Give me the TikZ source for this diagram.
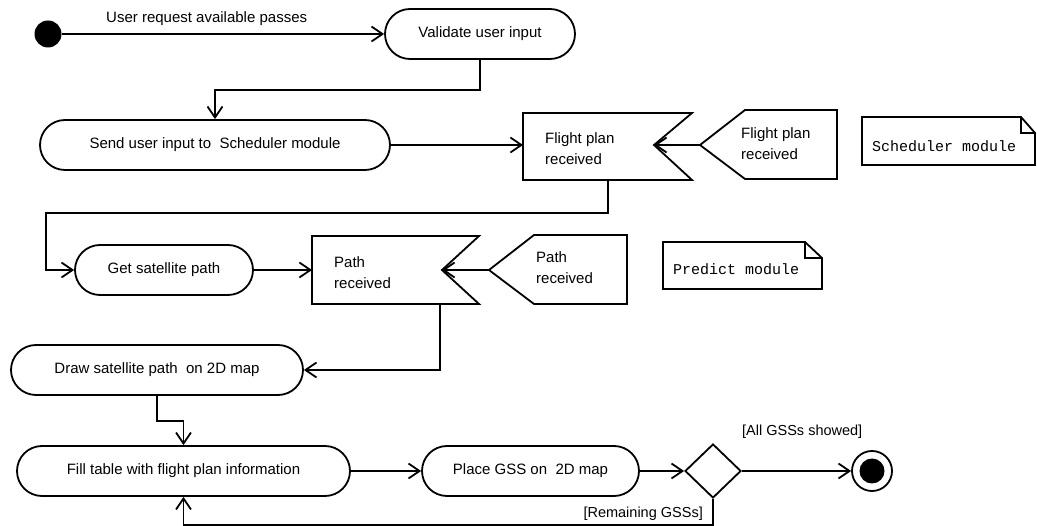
\documentclass[tikz,border=0pt]{standalone}
\usepackage{fontspec}
\setmainfont{Liberation Sans}
\newfontfamily\notefont{Liberation Mono}
\usetikzlibrary{arrows.meta,shapes.geometric}
\newcommand\diagfont{\fontsize{15}{21}\selectfont}
\newcommand\guardfont{\fontsize{14.5}{18}\selectfont}

\tikzset{
  ln/.style={line width=1.8pt},
  flow/.style={ln, -{Straight Barb[length=11pt,width=15pt]}},
  action/.style={draw, ln, rectangle, rounded corners=25pt, minimum height=50pt,
                 inner sep=0pt, font=\diagfont},
  evtext/.style={anchor=west, align=left, inner sep=0pt, font=\diagfont},
  notetext/.style={anchor=base west, inner sep=0pt, font=\notefont\fontsize{15}{18}\selectfont},
  guard/.style={inner sep=0pt, font=\guardfont},
}

\begin{document}
\begin{tikzpicture}[x=1pt,y=-1pt]
\useasboundingbox (0,0) rectangle (1037,526);

% initial and final nodes
\node[circle, fill, minimum size=27pt, inner sep=0pt] (start) at (48,34) {};
\node[circle, draw, ln, minimum size=40pt, inner sep=0pt] (final) at (872,471) {};
\node[circle, fill, minimum size=25pt, inner sep=0pt] (finaldot) at (final) {};

% actions
\node[action, minimum width=190pt] (validate) at (480,34) {Validate user input};
\node[action, minimum width=350pt] (send) at (215,145) {Send user input to\ \ Scheduler module};
\node[action, minimum width=178pt] (getpath) at (164,270) {Get satellite path};
\node[action, minimum width=292pt] (drawpath) at (157,370) {Draw satellite path\ \ on 2D map};
\node[action, minimum width=333pt] (fill) at (183.5,471) {Fill table with flight plan information};
\node[action, minimum width=217pt] (place) at (530.5,471) {Place GSS on\ \ 2D map};

% decision
\node[diamond, draw, ln, minimum width=56pt, minimum height=54pt, inner sep=0pt] (dec) at (713,471) {};

% accept event: flight plan received
\draw[ln] (523,113) -- (692,113) -- (654,145) coordinate (fa-notch)
          -- (692,180) -- (523,180) -- cycle;
\coordinate (fa-w) at (523,145);
\coordinate (fa-s) at (608,180);
\node[evtext] (fatext) at (545,149) {Flight plan\\received};

% send signal: flight plan received
\draw[ln] (700,145) coordinate (fs-tip) -- (745,110) -- (837,110)
          -- (837,179) -- (745,179) -- cycle;
\node[evtext] (fstext) at (741,144) {Flight plan\\received};

% accept event: path received
\draw[ln] (312,236) -- (479,236) -- (442,270) coordinate (pa-notch)
          -- (479,304) -- (312,304) -- cycle;
\coordinate (pa-w) at (312,270);
\coordinate (pa-s) at (440,304);
\node[evtext] (patext) at (334,273) {Path\\received};

% send signal: path received
\draw[ln] (489,270) coordinate (ps-tip) -- (534,235) -- (627,235)
          -- (627,304) -- (534,304) -- cycle;
\node[evtext] (pstext) at (536,268) {Path\\received};

% notes
\draw[ln] (862,117) -- (1021,117) -- (1035,133) -- (1035,165) -- (862,165) -- cycle;
\draw[ln] (1021,117) -- (1021,133) -- (1035,133);
\node[notetext] (schednote) at (872,152) {Scheduler module};

\draw[ln] (663,242) -- (805,242) -- (822,258) -- (822,289) -- (663,289) -- cycle;
\draw[ln] (805,242) -- (805,258) -- (822,258);
\node[notetext] (prednote) at (673,275) {Predict module};

% bend points
\coordinate (j1) at (0,90);
\coordinate (j2) at (46,213);
\coordinate (j3) at (0,421);
\coordinate (j4) at (0,525);

% control flow
\draw[flow] (start) -- (validate.west);
\node[anchor=base west, inner sep=0pt, font=\diagfont] (reqlabel) at (106,23) {User request available passes};
\draw[flow] (validate.south) -- (validate.south |- j1) -| (send.north);
\draw[flow] (send.east) -- (fa-w);
\draw[flow] (fs-tip) -- (fa-notch);
\draw[flow] (fa-s) |- (j2) |- (getpath.west);
\draw[flow] (getpath.east) -- (pa-w);
\draw[flow] (ps-tip) -- (pa-notch);
\draw[flow] (pa-s) |- (drawpath.east);
\draw[flow] (drawpath.south) -- (drawpath.south |- j3) -| (fill.north);
\draw[flow] (fill.east) -- (place.west);
\draw[flow] (place.east) -- (dec.west);
\draw[flow] (dec.east) -- (final.west);
\draw[flow] (dec.south) -- (dec.south |- j4) -| (fill.south);

% guards
\node[guard, anchor=base west] (allguard) at (742,436) {[All GSSs showed]};
\node[guard, anchor=base east] (remguard) at (703,518) {[Remaining GSSs]};
\end{tikzpicture}
\end{document}
